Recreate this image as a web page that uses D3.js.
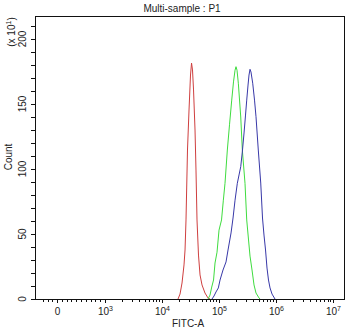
<!DOCTYPE html>
<html><head><meta charset="utf-8">
<script src="https://cdn.jsdelivr.net/npm/d3@7/dist/d3.min.js"></script>
<style>
html,body{margin:0;padding:0;background:#fff;}
text{font-family:"Liberation Sans",Arial,sans-serif;fill:#222;}
</style></head>
<body><svg id="c" width="350" height="331"></svg>
<script>
// ---- data (x as log10 FITC-A, y as Count / 10) ----
const redX = [4.281,4.316,4.351,4.386,4.404,4.421,4.447,4.474,4.500,4.518,4.535,4.553,4.579,4.596,4.614,4.640,4.667,4.702,4.754,4.807,4.842];
const redY = [0,3.8,12.3,26.2,37.7,60.8,114.6,145.4,172.3,181.5,176.2,160.8,130,99.2,60.8,33.8,18.5,10.8,4.6,0.8,0];
const greenX = [4.807,4.842,4.872,4.904,4.930,4.965,5.000,5.044,5.076,5.105,5.146,5.184,5.223,5.254,5.281,5.298,5.316,5.339,5.381,5.409,5.456,5.486,5.518,5.544,5.579,5.614,5.649,5.702,5.719];
const greenY = [0,3,9.2,14.6,27.7,36,53,60.8,76,89,114.6,134,153,167,176,178.7,176,166,140,114.6,89,60.8,45.4,33,22.3,10.8,4.6,0.8,0];
const blueX = [4.877,4.912,4.947,4.988,5.018,5.070,5.123,5.158,5.211,5.246,5.281,5.321,5.351,5.381,5.412,5.439,5.465,5.486,5.509,5.526,5.544,5.561,5.591,5.623,5.649,5.689,5.732,5.763,5.789,5.816,5.842,5.868,5.895,5.930,5.982];
const blueY = [0,2.3,5.4,8.5,14.6,22.3,28.5,37.7,50.8,62.3,76,89,95.4,101.8,114.6,127.7,141.5,153,164.6,172.3,176.7,174.6,166,153,140.2,114.6,89.2,62.3,49.2,37.7,23.8,14.6,8.5,3.8,0];
const xMajor = [0, 1e3, 1e4, 1e5, 1e6, 1e7];
const xMajorExp = [null, "3", "4", "5", "6", "7"];
const yMajor = [0, 50, 100, 150, 200];
const title = "Multi-sample : P1";
const xTitle = "FITC-A";
const yTitle = "Count";

// ---- layout ----
const L = 35, R = 345, T = 16, B = 299;
const svg = d3.select("#c");

// logicle-like display transform: log10 above 10^3, linear near 0
function tr(v){ return v >= 1000 ? Math.log10(v) : 3 - (1000 - v) / 1000 * 0.84; }
const x = d3.scaleLinear().domain([1.772, 7.21]).range([L, R]);
const y = d3.scaleLinear().domain([0, 217.7]).range([B, T]);

// minor x ticks
const xMinor = [-300,-200,-100];
for (let i = 1; i <= 9; i++) xMinor.push(i * 100);
for (let e = 3; e < 7; e++) for (let i = 2; i <= 9; i++) xMinor.push(i * Math.pow(10, e));

const g = svg.append("g");
// series
const series = [
  {xs: redX, ys: redY, c: "#cf3f3f"},
  {xs: greenX, ys: greenY, c: "#3fdc3f"},
  {xs: blueX, ys: blueY, c: "#3838a8"}
];
const line = d3.line().x(d => x(d[0])).y(d => y(d[1]));
series.forEach(s => {
  g.append("path").attr("d", line(s.xs.map((v, i) => [v, s.ys[i]])))
    .attr("fill", "none").attr("stroke", s.c).attr("stroke-width", 1);
});

// frame
g.append("rect").attr("x", L + 0.5).attr("y", T + 0.5).attr("width", R - L - 1).attr("height", B - T)
  .attr("fill", "none").attr("stroke", "#111").attr("stroke-width", 1);

// x ticks
xMinor.forEach(v => {
  const px = Math.round(x(tr(v))) + 0.5;
  g.append("line").attr("x1", px).attr("x2", px).attr("y1", B).attr("y2", B + 3).attr("stroke", "#111");
});
xMajor.forEach((v, i) => {
  const px = Math.round(x(tr(v))) + 0.5;
  g.append("line").attr("x1", px).attr("x2", px).attr("y1", B).attr("y2", B + 4).attr("stroke", "#111");
  const t = g.append("text").attr("x", px).attr("y", 315).attr("text-anchor", "middle").attr("font-size", 10);
  if (xMajorExp[i] === null) t.text("0");
  else {
    t.append("tspan").text("10");
    t.append("tspan").attr("font-size", 7).attr("dy", -4).text(xMajorExp[i]);
  }
});

// y ticks
d3.range(0, 211, 10).forEach(v => {
  const py = Math.round(y(v)) + 0.5;
  g.append("line").attr("x1", L - 4).attr("x2", L).attr("y1", py).attr("y2", py).attr("stroke", "#111");
});
yMajor.forEach(v => {
  g.append("text").attr("transform", `translate(26,${y(v)}) rotate(-90)`)
    .attr("text-anchor", "middle").attr("font-size", 10).text(v);
});

// titles
svg.append("text").attr("x", 182).attr("y", 12).attr("text-anchor", "middle").attr("font-size", 10).text(title);
svg.append("text").attr("x", 188).attr("y", 327).attr("text-anchor", "middle").attr("font-size", 10).text(xTitle);
svg.append("text").attr("transform", "translate(12,157) rotate(-90)").attr("text-anchor", "middle").attr("font-size", 10).text(yTitle);
const m = svg.append("text").attr("transform", "translate(15,32) rotate(-90)").attr("text-anchor", "middle").attr("font-size", 10);
m.append("tspan").text("(x 10");
m.append("tspan").attr("font-size", 7).attr("dy", -4).text("1");
m.append("tspan").attr("dy", 4).text(")");
</script></body></html>
